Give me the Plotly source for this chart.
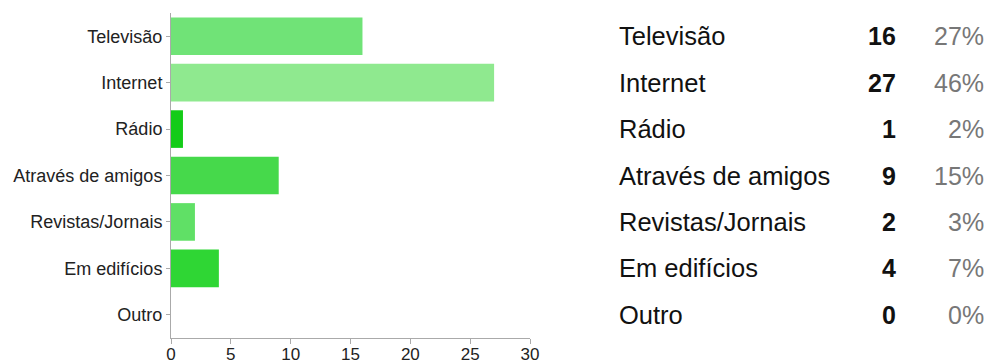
import plotly.graph_objects as go

# Survey answers: how respondents heard about it
categories = ["Televisão", "Internet", "Rádio", "Através de amigos",
              "Revistas/Jornais", "Em edifícios", "Outro"]
counts = [16, 27, 1, 9, 2, 4, 0]
bar_colors = ["#70e377", "#8fe98f", "#14cc18", "#46d94b",
              "#60e066", "#2fd634", "#2fd634"]
x_ticks = [0, 5, 10, 15, 20, 25, 30]

total = sum(counts)
percents = [f"{round(100 * c / total)}%" for c in counts]

W, H = 989, 363
M_L, M_R, M_T, M_B = 171, 459, 13, 25
plot_w = W - M_L - M_R


def px_to_paper(px):
    return (px - M_L) / plot_w


fig = go.Figure(
    go.Bar(
        x=counts,
        y=categories,
        orientation="h",
        marker=dict(color=bar_colors, line=dict(width=0)),
        hoverinfo="x+y",
    )
)

font_family = "Liberation Sans, Arial, sans-serif"

annotations = []
for cat, cnt, pct in zip(categories, counts, percents):
    annotations.append(dict(
        xref="paper", yref="y", x=px_to_paper(617), y=cat,
        text=cat, showarrow=False, xanchor="left", yanchor="middle",
        font=dict(family=font_family, size=25.5, color="#111111"),
    ))
    annotations.append(dict(
        xref="paper", yref="y", x=px_to_paper(898), y=cat,
        text=f"<b>{cnt}</b>", showarrow=False, xanchor="right", yanchor="middle",
        font=dict(family=font_family, size=25, color="#111111"),
    ))
    annotations.append(dict(
        xref="paper", yref="y", x=px_to_paper(986), y=cat,
        text=pct, showarrow=False, xanchor="right", yanchor="middle",
        font=dict(family=font_family, size=25, color="#777777"),
    ))

fig.update_layout(
    width=W, height=H,
    margin=dict(l=M_L, r=M_R, t=M_T, b=M_B, pad=0, autoexpand=False),
    paper_bgcolor="white", plot_bgcolor="white",
    bargap=0.19,
    showlegend=False,
    font=dict(family=font_family, size=18, color="#222222"),
    annotations=annotations,
    xaxis=dict(
        range=[0, 30], tickvals=x_ticks, ticktext=[str(v) for v in x_ticks],
        showgrid=False, zeroline=False,
        showline=True, linecolor="#aaaaaa", linewidth=1,
        ticks="outside", ticklen=5, tickcolor="#aaaaaa",
        tickfont=dict(size=17, color="#222222"),
        ticklabelstandoff=-4,
        automargin=False,
        fixedrange=True,
    ),
    yaxis=dict(
        categoryorder="array", categoryarray=categories,
        autorange="reversed",
        showgrid=False, zeroline=False,
        showline=True, linecolor="#aaaaaa", linewidth=1,
        ticks="outside", ticklen=4, tickcolor="#aaaaaa",
        tickfont=dict(size=18, color="#222222"),
        automargin=False,
        fixedrange=True,
    ),
)

fig.write_html("out.html", config={"displayModeBar": False})
